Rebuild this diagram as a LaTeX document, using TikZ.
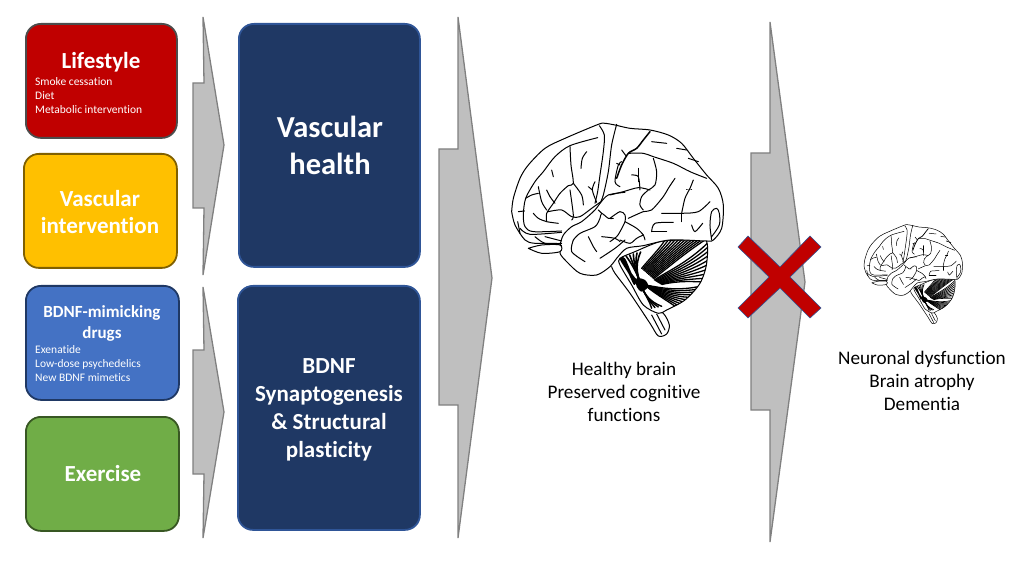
\documentclass[tikz,border=0pt]{standalone}
\usepackage{fontspec}
\setmainfont[Ligatures=NoCommon]{Carlito}
\definecolor{lifered}{HTML}{C00000}
\definecolor{vascyellow}{HTML}{FFC000}
\definecolor{drugblue}{HTML}{4472C4}
\definecolor{exgreen}{HTML}{70AD47}
\definecolor{navy}{HTML}{1F3864}
\definecolor{navyedge}{HTML}{2F5597}
\newcommand{\sk}[1]{\draw plot[smooth] coordinates {#1};}
\tikzset{
	card/.style={draw,line width=1.8pt,rounded corners=15pt,anchor=north west,inner sep=0pt},
	bigcard/.style={card,fill=navy,draw=navyedge},
	head/.style={text=white,font=\bfseries\fontsize{23}{27}\selectfont,align=center},
	small/.style={text=white,font=\fontsize{11.5}{14}\selectfont,align=left,anchor=north west,inner sep=0pt},
	bighead/.style={text=white,font=\bfseries\fontsize{30.5}{37}\selectfont,align=center},
	midhead/.style={text=white,font=\bfseries\fontsize{23}{28}\selectfont,align=center},
	caption/.style={font=\fontsize{19.2}{23}\selectfont,align=center},
	shaft/.style={fill=black!25,draw=black!50,line width=1.3pt},
	brain/.pic={
		\begin{scope}[line width=#1pt,line join=round,line cap=round]
		% stem and cerebellum
		\begin{scope}[shift={(330,360)}]
			\draw[fill=white] plot[smooth] coordinates {(5,110) (15,130) (60,190) (120,280) (145,318) (170,312) (178,285) (160,250) (120,225) (70,150)};
			\sk{(125,255) (155,312)}
			\sk{(140,252) (165,300)}
			\draw[fill=white] plot[smooth cycle] coordinates {(30,85) (75,65) (150,35) (220,30) (287,30) (290,100) (270,160) (225,210) (170,240) (145,250) (100,225) (65,165) (30,105)};
			\begin{scope}
				\clip plot[smooth cycle] coordinates {(30,85) (75,65) (150,35) (220,30) (287,30) (290,100) (270,160) (225,210) (170,240) (145,250) (100,225) (65,165) (30,105)};
				\foreach \i in {0,...,12} {
					\draw[line width=1.3*#1pt] (95+3*\i,115+2.6*\i) .. controls (120+4.5*\i,85+2.3*\i) and (150+6.5*\i,55+\i) .. (165+10*\i,30);
				}
				\foreach \i in {0,...,9} {
					\draw[line width=1.3*#1pt] (133+2.5*\i,150+1.5*\i) .. controls (170+4*\i,125+3*\i) and (230+2*\i,100+6*\i) .. (292,40+13*\i);
				}
				\foreach \i in {0,...,9} {
					\draw[line width=1.3*#1pt] (105,165) .. controls (140,170+3*\i) and (190,185+4*\i) .. (265-6*\i,170+8*\i);
				}
				\foreach \i in {0,...,4} {
					\draw[line width=1.6*#1pt] (92,165) .. controls (85,140) and (72,110) .. (48+11*\i,78-3*\i);
				}
				\foreach \i in {0,...,3} {
					\draw[line width=1.4*#1pt] (95,170) .. controls (105,195) and (120,215) .. (125+10*\i,235-2*\i);
				}
				\fill plot[smooth cycle] coordinates {(28,85) (45,85) (65,130) (80,150) (72,165) (55,130)};
				\fill plot[smooth cycle] coordinates {(80,145) (105,150) (115,170) (95,185) (80,170)};
			\end{scope}
		\end{scope}
		% cerebrum
		\draw[fill=white] plot[smooth] coordinates {(35,305) (40,265) (60,205) (85,165) (135,115) (195,85) (295,43) (315,40) (345,45) (390,55) (450,60) (505,75) (545,100) (580,145) (620,195) (655,235) (670,285) (665,355) (640,390) (620,393) (510,390) (430,407) (380,415) (350,445) (330,470) (290,495) (240,490) (200,455) (180,430) (180,402) (105,400) (75,390) (45,345) (35,305)};
		% frontal part
		\begin{scope}[shift={(15,15)}]
			\sk{(283,32) (298,60) (295,110) (285,180) (278,230) (270,265)}
			\sk{(335,28) (320,90) (310,170) (295,240) (285,265)}
			\sk{(278,68) (195,92) (150,125) (115,170) (90,200) (62,250) (55,300) (60,335) (85,350) (170,348)}
			\sk{(195,95) (198,150) (205,205) (190,212) (165,235) (145,265) (125,295) (125,320)}
			\sk{(205,205) (230,240) (235,270)}
			\sk{(195,225) (205,300) (200,315)}
			\sk{(245,110) (232,130) (228,160)}
			\sk{(140,165) (145,185)}
			\sk{(100,215) (110,260) (125,285)}
			\sk{(125,225) (135,245) (150,265)}
			\sk{(62,250) (80,240) (100,235)}
			\sk{(40,290) (58,288)}
			\sk{(85,295) (100,310) (125,320) (160,325)}
			\sk{(130,290) (170,285) (200,305) (225,305) (260,280) (285,262)}
			\sk{(270,200) (262,225) (275,262)}
			\sk{(250,215) (262,225)}
			\sk{(38,320) (45,355)}
			\sk{(45,340) (75,358) (170,352)}
			\sk{(90,365) (120,385) (170,385)}
			\sk{(120,365) (170,378)}
			\draw[fill=white] plot[smooth] coordinates {(70,400) (110,390) (165,390) (165,410) (110,415) (70,400)};
			% temporal part
			\sk{(165,390) (175,360) (200,335) (230,320) (270,285) (285,265) (310,240) (360,232)}
			\sk{(205,375) (225,355) (270,335) (285,310) (290,295) (310,310) (325,310)}
			\sk{(280,285) (290,295)}
			\sk{(250,365) (265,395) (275,410)}
			\sk{(290,365) (330,370) (345,380)}
			\sk{(285,430) (330,400) (360,375)}
			\sk{(205,375) (200,410) (240,440)}
			\sk{(350,140) (340,150) (330,200) (345,215)}
		\end{scope}
		% back part
		\begin{scope}[shift={(330,15)}]
			\sk{(0,240) (40,230) (85,218) (120,225)}
			\draw[line width=1.5*#1pt] plot[smooth] coordinates {(120,50) (100,75) (80,100) (55,115) (35,150) (20,190)};
			\sk{(55,115) (100,115) (130,125) (190,145) (240,170) (290,190)}
			\sk{(35,105) (50,125)}
			\sk{(130,130) (140,170) (135,210) (115,225) (95,245) (90,270) (100,285)}
			\sk{(65,180) (85,185) (90,225)}
			\sk{(85,160) (85,200)}
			\sk{(195,190) (175,220) (160,245) (125,285) (100,290) (55,310)}
			\sk{(20,145) (30,150)}
			\sk{(125,80) (170,85)}
			\sk{(200,100) (230,105)}
			\sk{(235,130) (265,140)}
			\sk{(0,310) (30,290) (45,300) (45,320) (30,350) (20,365) (0,380)}
			\sk{(45,320) (80,340) (100,360) (105,375)}
			\sk{(30,375) (60,385) (80,370) (100,360)}
			\sk{(125,350) (135,325) (190,322)}
			\sk{(125,350) (170,350)}
			\sk{(155,295) (215,295) (265,290) (300,260)}
			\sk{(215,295) (215,320)}
			\sk{(215,295) (225,250) (240,220) (250,195)}
			\sk{(245,330) (255,350) (278,325)}
			\sk{(305,375) (300,330) (305,290) (320,280) (328,295) (328,330) (305,365)}
			\sk{(230,225) (245,225)}
		\end{scope}
		\end{scope}
	}
}

\begin{document}
\begin{tikzpicture}[x=1pt,y=-1pt]
	\useasboundingbox (0,0) rectangle (1020,561);

	% arrows
	\draw[shaft] (203,17) -- (224,145) -- (203,275) -- (204,208) -- (193,208) -- (193,83) -- (204,83) -- cycle;
	\draw[shaft] (203,287) -- (224,412) -- (203,538) -- (204,474) -- (193,474) -- (193,350) -- (204,350) -- cycle;
	\draw[shaft] (458,17) -- (492,278) -- (458,538) -- (458,405) -- (439,405) -- (439,149) -- (458,149) -- cycle;
	\draw[shaft] (770,22) -- (805,282) -- (770,542) -- (770,410) -- (751,410) -- (751,153) -- (770,153) -- cycle;

	% left column
	\node[card,fill=lifered,draw=black!70,minimum width=151pt,minimum height=114pt] (lifestyle) at (25,23) {};
	\node[card,fill=vascyellow,draw=vascyellow!50!black,minimum width=153pt,minimum height=114pt] (vascint) at (23,153) {};
	\node[card,fill=drugblue,draw=navy,minimum width=153pt,minimum height=114pt] (drugs) at (25,285) {};
	\node[card,fill=exgreen,draw=exgreen!50!black,minimum width=153pt,minimum height=114pt] (exercise) at (25,416) {};

	\node[head] (lifestyletext) at (101,62) {Lifestyle};
	\node[small] (lifestylelist) at (35,77.5) {Smoke cessation\\Diet\\Metabolic intervention};
	\node[head] (vascinttext) at (100,212) {Vascular\\intervention};
	\node[head,font=\bfseries\fontsize{17}{21}\selectfont] (drugstext) at (102,323) {BDNF-mimicking\\drugs};
	\node[small] (drugslist) at (35,345) {Exenatide\\Low-dose psychedelics\\New BDNF mimetics};
	\node[head] (exercisetext) at (103,474) {Exercise};

	% middle column
	\node[bigcard,minimum width=181pt,minimum height=243pt] (vaschealth) at (238,23) {};
	\node[bigcard,minimum width=182pt,minimum height=244pt] (bdnf) at (237,285) {};
	\node[bighead] (vaschealthtext) at (330,145) {Vascular\\health};
	\node[midhead] (bdnftext) at (329,410) {BDNF\\Synaptogenesis\\\& Structural\\plasticity};

	% brains
	\pic[scale=0.3333] at (500,110) {brain=1};
	\pic[scale=0.155] at (858.6,218.5) {brain=0.5};

	% cross
	\draw[fill=lifered,draw=navyedge,line width=0.6pt] (748,236) -- (780,267) -- (810,236) -- (821,247) -- (790,277) -- (821,308) -- (810,318) -- (780,288) -- (748,318) -- (738,308) -- (769,277) -- (738,247) -- cycle;

	% captions
	\node[caption] (healthy) at (624,392) {Healthy brain\\Preserved cognitive\\functions};
	\node[caption] (dementia) at (922,381) {Neuronal dysfunction\\Brain atrophy\\Dementia};
\end{tikzpicture}
\end{document}
